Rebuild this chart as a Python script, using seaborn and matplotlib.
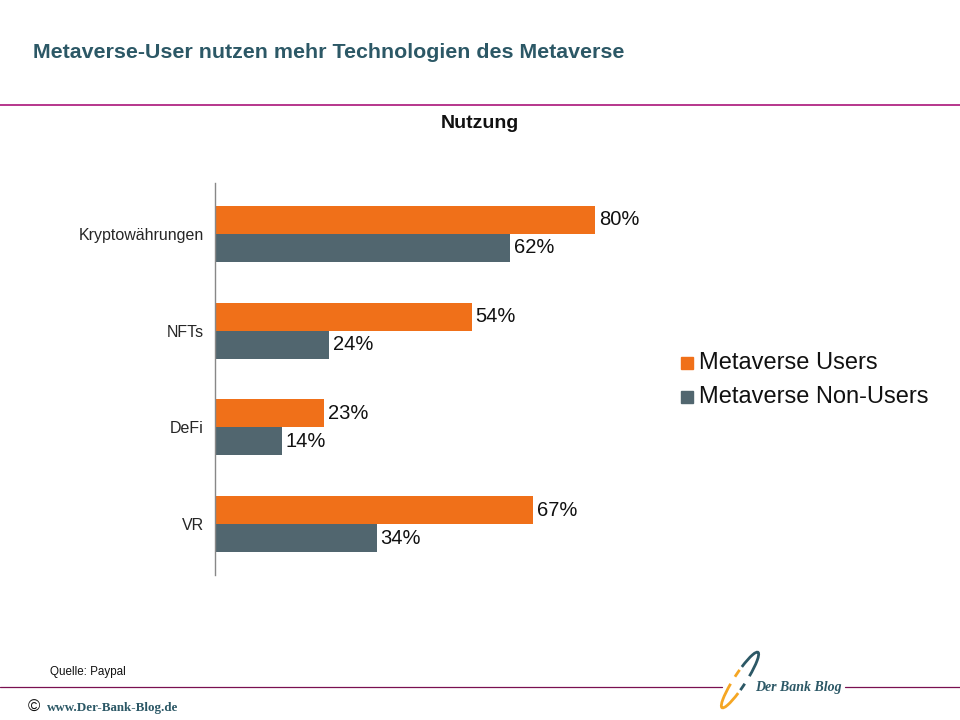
import matplotlib
matplotlib.use("Agg")
import matplotlib.pyplot as plt
import seaborn as sns
import pandas as pd
from matplotlib.patches import Arc

# data
categories = ["Kryptowährungen", "NFTs", "DeFi", "VR"]
users = [80, 54, 23, 67]
non_users = [62, 24, 14, 34]
series = ["Metaverse Users", "Metaverse Non-Users"]
colors = ["#F07019", "#51666F"]

df = pd.DataFrame({
    "Kategorie": categories * 2,
    "Wert": users + non_users,
    "Gruppe": [series[0]] * len(categories) + [series[1]] * len(categories),
})

sns.set_style("white")
plt.rcParams["font.family"] = ["Liberation Sans", "DejaVu Sans"]

fig = plt.figure(figsize=(9.6, 7.2), dpi=100)
ax = fig.add_axes([215 / 960, 1 - 575 / 720, 475 / 960, 392 / 720])

sns.barplot(data=df, y="Kategorie", x="Wert", hue="Gruppe", order=categories,
            hue_order=series, palette=colors, width=0.577, gap=0, orient="h",
            saturation=1, linewidth=0, ax=ax, legend=False)

ax.set_xlim(0, 100)
ax.set_ylim(3.526, -0.526)
ax.set_xlabel("")
ax.set_ylabel("")
ax.set_xticks([])
for s in ["top", "right", "bottom"]:
    ax.spines[s].set_visible(False)
ax.spines["left"].set_color("#888888")
ax.spines["left"].set_linewidth(1)
ax.tick_params(axis="y", length=0, pad=8, labelsize=11.5)

for cont in ax.containers:
    ax.bar_label(cont, labels=[f"{int(v)}%" for v in cont.datavalues],
                 padding=3, fontsize=14.5, color="#111111")

# legend
for i, (name, c) in enumerate(zip(series, colors)):
    y = 1 - (363 + i * 34) / 720
    fig.patches.append(plt.Rectangle((681 / 960, y - 6 / 720), 12 / 960, 12 / 720,
                                     transform=fig.transFigure, color=c))
    fig.text(699 / 960, y, name, fontsize=17, va="center", ha="left", color="#111111")

# title and header
fig.text(33 / 960, 1 - 52 / 720, "Metaverse-User nutzen mehr Technologien des Metaverse",
         fontsize=15.4, fontweight="bold", color="#2C5866", va="center")
fig.text(480 / 960, 1 - 123 / 720, "Nutzung", fontsize=14, fontweight="bold",
         ha="center", va="center", color="#111111")
fig.add_artist(plt.Line2D([0, 1], [1 - 105 / 720] * 2, color="#A3006E", lw=1.1))

# footer
fig.text(50 / 960, 1 - 672 / 720, "Quelle: Paypal", fontsize=8.4, va="center", color="#111111")
fig.add_artist(plt.Line2D([0, 722 / 960], [1 - 687 / 720] * 2, color="#7A1050", lw=0.9))
fig.add_artist(plt.Line2D([845 / 960, 1], [1 - 687 / 720] * 2, color="#7A1050", lw=0.9))
fig.text(28 / 960, 1 - 707 / 720, "©", fontsize=12, va="center", color="#111111")
fig.text(47 / 960, 1 - 708 / 720, "www.Der-Bank-Blog.de", fontsize=9.4, fontweight="bold",
         family=["Liberation Serif"], va="center", color="#2C5866")

# logo
lax = fig.add_axes([705 / 960, 1 - 712 / 720, 70 / 960, 64 / 720])
lax.set_xlim(0, 70)
lax.set_ylim(0, 64)
lax.axis("off")
ell = dict(xy=(35, 32), width=12, height=66, angle=-33)
lax.add_patch(Arc(theta1=55, theta2=115, color="#2C5866", lw=2, **ell))
lax.add_patch(Arc(theta1=125, theta2=180, color="#F5A623", lw=2, **ell))
lax.add_patch(Arc(theta1=235, theta2=295, color="#F5A623", lw=2, **ell))
lax.add_patch(Arc(theta1=305, theta2=355, color="#2C5866", lw=2, **ell))
fig.text(755 / 960, 1 - 687 / 720, "Der Bank Blog", fontsize=10, fontweight="bold",
         fontstyle="italic", family=["Liberation Serif"], va="center", color="#2C5866")

fig.savefig("out.png", dpi=100)
